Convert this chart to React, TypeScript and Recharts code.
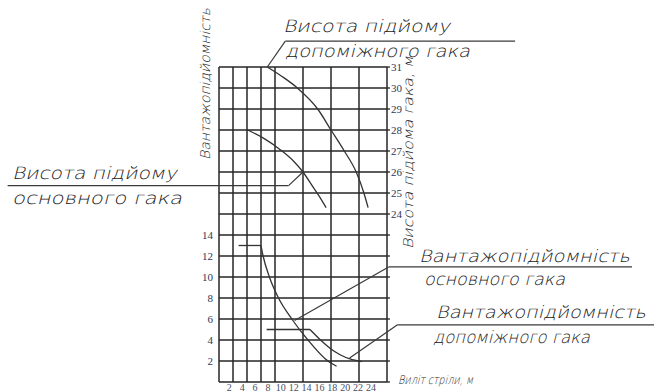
import { LineChart, Line, XAxis, YAxis, CartesianGrid, ReferenceLine } from 'recharts'

// виліт стріли, м (grid every 2 m)
const reachGrid = [0, 2, 4, 6, 8, 10, 12, 14, 16, 18, 20, 22, 24]
const reachLabels = [2, 4, 6, 8, 10, 12, 14, 16, 18, 20, 22, 24]
const loadTicks = [0, 2, 4, 6, 8, 10, 12, 14, 16, 18, 20, 22, 24, 26, 28, 30]
const heightTicks = [16, 17, 18, 19, 20, 21, 22, 23, 24, 25, 26, 27, 28, 29, 30, 31]

// висота підйому допоміжного гака
const auxHeightReach = [6.9, 9.0, 11.2, 14.1, 16.0, 17.9, 19.6, 20.7, 21.3]
const auxHeightValue = [31, 30.55, 30, 29, 28, 27, 26, 25, 24.3]

// висота підйому основного гака
const mainHeightReach = [4.1, 6.4, 8.8, 10.7, 12.0, 13.4, 14.4, 15.3]
const mainHeightValue = [28.0, 27.6, 27.05, 26.5, 26.0, 25.3, 24.8, 24.3]

// вантажопідйомність основного гака
const mainLoadFlatReach = [2.8, 6.0]
const mainLoadFlatValue = [13, 13]
const mainLoadReach = [6.0, 6.3, 7.2, 8.5, 10.4, 12.7, 15.2, 16.8]
const mainLoadValue = [13, 12, 10, 8, 6, 4, 2.2, 1.5]

// вантажопідйомність допоміжного гака
const auxLoadFlatReach = [6.8, 13.0]
const auxLoadFlatValue = [5, 5]
const auxLoadReach = [13.0, 14.5, 15.9, 17.3, 18.7, 20.4]
const auxLoadValue = [5, 4.0, 3.2, 2.6, 2.2, 1.95]

// leader lines (reach, value)
const auxHeightLeader = [[6.9, 31], [9.47, 32.23], [42.3, 32.23]]
const mainHeightLeader = [[12.0, 26.0], [9.94, 25.35], [-30.2, 25.35]]
const mainLoadLeader = [[10.8, 5.86], [24.23, 10.96], [59.0, 10.96]]
const auxLoadLeader = [[18.66, 2.28], [25.5, 5.45], [62.5, 5.45]]

const pts = (xs: number[], ys: number[]) => xs.map((x, i) => ({ x, y: ys[i] }))

const ink = '#333'
const gridInk = '#262626'
const numInk = '#2b3856'

function Leader({ path, axis }: { path: number[][]; axis: string }) {
  return (
    <>
      {path.slice(1).map((p, i) => (
        <ReferenceLine
          key={axis + i + p[0]}
          xAxisId="m"
          yAxisId={axis}
          segment={[
            { x: path[i][0], y: path[i][1] },
            { x: p[0], y: p[1] },
          ]}
          ifOverflow="visible"
          stroke="#3a3a3a"
          strokeWidth={1.2}
        />
      ))}
    </>
  )
}

function Note({ x, y, text, len, size = 17, up = false }: { x: number; y: number; text: string; len: number; size?: number; up?: boolean }) {
  return (
    <g transform={`translate(${x},${y}) ${up ? 'rotate(-90)' : ''} skewX(-14)`}>
      <text
        x={0}
        y={0}
        fontSize={size}
        fontFamily="DejaVu Sans"
        fontWeight={200}
        fill="#222"
        textLength={len}
        lengthAdjust="spacingAndGlyphs"
      >
        {text}
      </text>
    </g>
  )
}

export default function App() {
  const serif = { fontFamily: 'Liberation Serif', fontSize: 11, fill: numInk }
  return (
    <div style={{ position: 'absolute', left: 0, top: 0, width: 654, height: 392, background: '#fff' }}>
      <LineChart width={654} height={392} margin={{ top: 67, right: 237, bottom: 0, left: 189 }}>
        <CartesianGrid xAxisId="m" yAxisId="load" stroke={gridInk} strokeWidth={1.5} />
        <XAxis xAxisId="m" dataKey="x" type="number" domain={[0, 24]} ticks={reachGrid} allowDataOverflow hide />
        <XAxis
          xAxisId="l"
          dataKey="x"
          type="number"
          domain={[0.4, 26.5]}
          ticks={reachLabels}
          interval={0}
          allowDataOverflow
          axisLine={false}
          tickLine={false}
          tickSize={1}
          tickMargin={1}
          height={10}
          tick={{ ...serif, fontSize: 10, fill: '#4a4e62' }}
        />
        <YAxis
          yAxisId="load"
          type="number"
          domain={[0, 30]}
          ticks={loadTicks}
          interval={0}
          width={30}
          axisLine={false}
          tickLine={false}
          tickSize={4}
          tickMargin={2}
          tick={serif}
          tickFormatter={(v: number) => (v >= 2 && v <= 14 ? String(v) : '')}
        />
        <YAxis
          yAxisId="h"
          orientation="right"
          type="number"
          domain={[16, 31]}
          ticks={heightTicks}
          interval={0}
          width={30}
          axisLine={false}
          tickLine={{ stroke: gridInk, strokeWidth: 1.3 }}
          tickSize={3}
          tickMargin={1}
          tick={serif}
          tickFormatter={(v: number) => (v >= 24 ? String(v) : '')}
        />
        <Line xAxisId="m" yAxisId="h" data={pts(auxHeightReach, auxHeightValue)} dataKey="y" type="monotone" stroke={ink} strokeWidth={1.3} dot={false} isAnimationActive={false} />
        <Line xAxisId="m" yAxisId="h" data={pts(mainHeightReach, mainHeightValue)} dataKey="y" type="monotone" stroke={ink} strokeWidth={1.3} dot={false} isAnimationActive={false} />
        <Line xAxisId="m" yAxisId="load" data={pts(mainLoadFlatReach, mainLoadFlatValue)} dataKey="y" type="linear" stroke={ink} strokeWidth={1.3} dot={false} isAnimationActive={false} />
        <Line xAxisId="m" yAxisId="load" data={pts(mainLoadReach, mainLoadValue)} dataKey="y" type="monotone" stroke={ink} strokeWidth={1.3} dot={false} isAnimationActive={false} />
        <Line xAxisId="m" yAxisId="load" data={pts(auxLoadFlatReach, auxLoadFlatValue)} dataKey="y" type="linear" stroke={ink} strokeWidth={1.3} dot={false} isAnimationActive={false} />
        <Line xAxisId="m" yAxisId="load" data={pts(auxLoadReach, auxLoadValue)} dataKey="y" type="monotone" stroke={ink} strokeWidth={1.3} dot={false} isAnimationActive={false} />
        {/* carries the label axis; draws nothing */}
        <Line xAxisId="l" yAxisId="load" data={reachLabels.map((x) => ({ x }))} dataKey="y" stroke="none" dot={false} activeDot={false} legendType="none" isAnimationActive={false} />
        {Leader({ path: auxHeightLeader, axis: 'h' })}
        {Leader({ path: mainHeightLeader, axis: 'h' })}
        {Leader({ path: mainLoadLeader, axis: 'load' })}
        {Leader({ path: auxLoadLeader, axis: 'load' })}
      </LineChart>
      <svg width={654} height={392} style={{ position: 'absolute', left: 0, top: 0, pointerEvents: 'none' }}>
        <Note x={283} y={32} text="Висота підйому" len={167} />
        <Note x={285} y={57} text="допоміжного гака" len={185} />
        <Note x={12} y={179} text="Висота підйому" len={165} />
        <Note x={12} y={204} text="основного гака" len={170} />
        <Note x={419} y={262} text="Вантажопідйомність" len={211} />
        <Note x={424} y={285} text="основного гака" len={141} />
        <Note x={436} y={318} text="Вантажопідйомність" len={210} />
        <Note x={433} y={343} text="допоміжного гака" len={157} />
        <Note x={398} y={384} text="Виліт стріли, м" len={75} size={12} />
        <Note x={210} y={160} text="Вантажопідйомність" len={152} size={13.5} up />
        <Note x={413} y={249} text="Висота підйома гака, м" len={193} size={13.5} up />
      </svg>
    </div>
  )
}
